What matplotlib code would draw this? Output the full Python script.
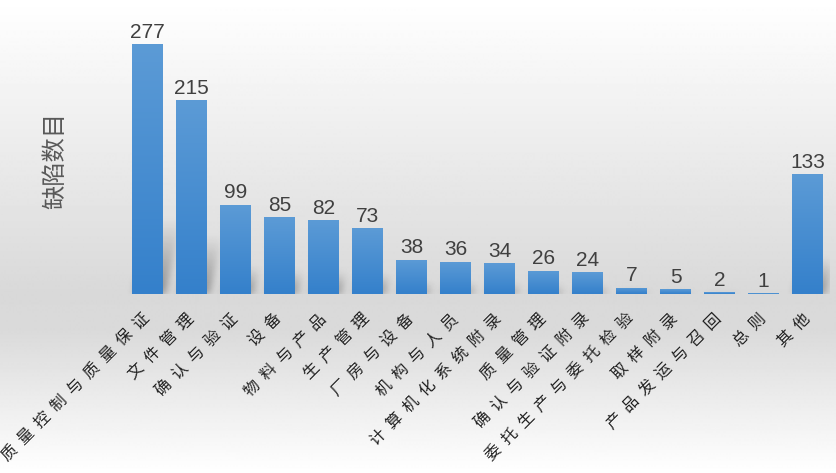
import numpy as np
import matplotlib
matplotlib.use("Agg")
import matplotlib.pyplot as plt
from matplotlib.colors import LinearSegmentedColormap

categories = ["质量控制与质量保证", "文件管理", "确认与验证", "设备", "物料与产品",
              "生产管理", "厂房与设备", "机构与人员", "计算机化系统附录", "质量管理",
              "确认与验证附录", "委托生产与委托检验", "取样附录", "产品发运与召回",
              "总则", "其他"]
defects = [277, 215, 99, 85, 82, 73, 38, 36, 34, 26, 24, 7, 5, 2, 1, 133]
y_title = "缺陷数目"

W, H = 836, 473
fig = plt.figure(figsize=(W / 100, H / 100), dpi=100)

# page background: white -> grey at the floor -> white
bg = fig.add_axes([0, 0, 1, 1], zorder=-10)
rows = np.linspace(0, 1, H)
shade = np.interp(rows, [0, 0.62, 0.70, 1.0], [1.0, 0.85, 0.855, 1.0])
bg.imshow(np.repeat(shade[:, None], 2, axis=1), cmap="gray", vmin=0, vmax=1,
          aspect="auto", extent=[0, 1, 0, 1])
bg.axis("off")

# plot area
left_px, base_px, width_px = 125.5, 294, 704
ymax = 300
px_per_unit = 250 / 277
ax = fig.add_axes([left_px / W, (H - base_px) / H, width_px / W,
                   ymax * px_per_unit / H])
ax.patch.set_alpha(0)

x = np.arange(len(categories))
bw = 31 / 44

# soft cast shadow behind the bars
sh_h = 110
cols = np.arange(width_px) + 0.5
ys = np.arange(sh_h) + 0.5
XX, YY = np.meshgrid(cols, ys)
alpha = np.zeros_like(XX)
for i, v in enumerate(defects):
    hpx = v * px_per_unit
    top = 0.3 * hpx
    l = (i + 0.5 - bw / 2) * 44 + 0.22 * YY + 2
    r = (i + 0.5 + bw / 2) * 44 + 0.22 * YY + 2
    inside = (XX >= l) & (XX <= r) & (YY <= top)
    a = np.where(inside, 0.36 * (1 - YY / max(top, 1)), 0)
    alpha = np.maximum(alpha, a)
k = np.exp(-0.5 * (np.arange(-12, 13) / 4.0) ** 2)
k /= k.sum()
alpha = np.apply_along_axis(lambda r: np.convolve(r, k, mode="same"), 1, alpha)
alpha = np.apply_along_axis(lambda c: np.convolve(c, k, mode="same"), 0, alpha)
rgba = np.zeros((sh_h, width_px, 4))
rgba[..., 3] = alpha
ax.imshow(rgba[::-1], extent=[-0.5, len(categories) - 0.5, 0, sh_h / px_per_unit],
          aspect="auto", zorder=1, interpolation="bilinear")

# bars with vertical blue gradient
blue = LinearSegmentedColormap.from_list("bar", ["#3480cb", "#5c9bd6"])
bars = ax.bar(x, defects, width=bw, color="none", edgecolor="none", zorder=2)
grad = np.linspace(0, 1, 256)[:, None]
for b in bars:
    im = ax.imshow(grad, extent=[b.get_x(), b.get_x() + b.get_width(), 0, b.get_height()],
                   origin="lower", cmap=blue, aspect="auto", zorder=3)
    im.set_clip_path(b)

for xi, v in zip(x, defects):
    ax.annotate(str(v), (xi, v), xytext=(0, 4.5), textcoords="offset points",
                ha="center", va="baseline", fontsize=15, color="#404040",
                family="Liberation Sans")

ax.set_xlim(-0.5, len(categories) - 0.5)
ax.set_ylim(0, ymax)
ax.set_xticks(x)
ax.set_xticklabels(["  ".join(c) for c in categories], rotation=45, ha="right",
                   va="center", rotation_mode="anchor", fontsize=11.5,
                   color="#222222", family=["Noto Sans CJK SC", "DejaVu Sans"])
ax.tick_params(axis="x", length=0, pad=16)
ax.set_yticks([])
for s in ax.spines.values():
    s.set_visible(False)

fig.text(55 / W, 1 - 160 / H, y_title, rotation=90, ha="center", va="center",
         fontsize=17.5, color="#595959", family=["Noto Sans CJK SC", "DejaVu Sans"])

fig.savefig("out.png", dpi=100)
